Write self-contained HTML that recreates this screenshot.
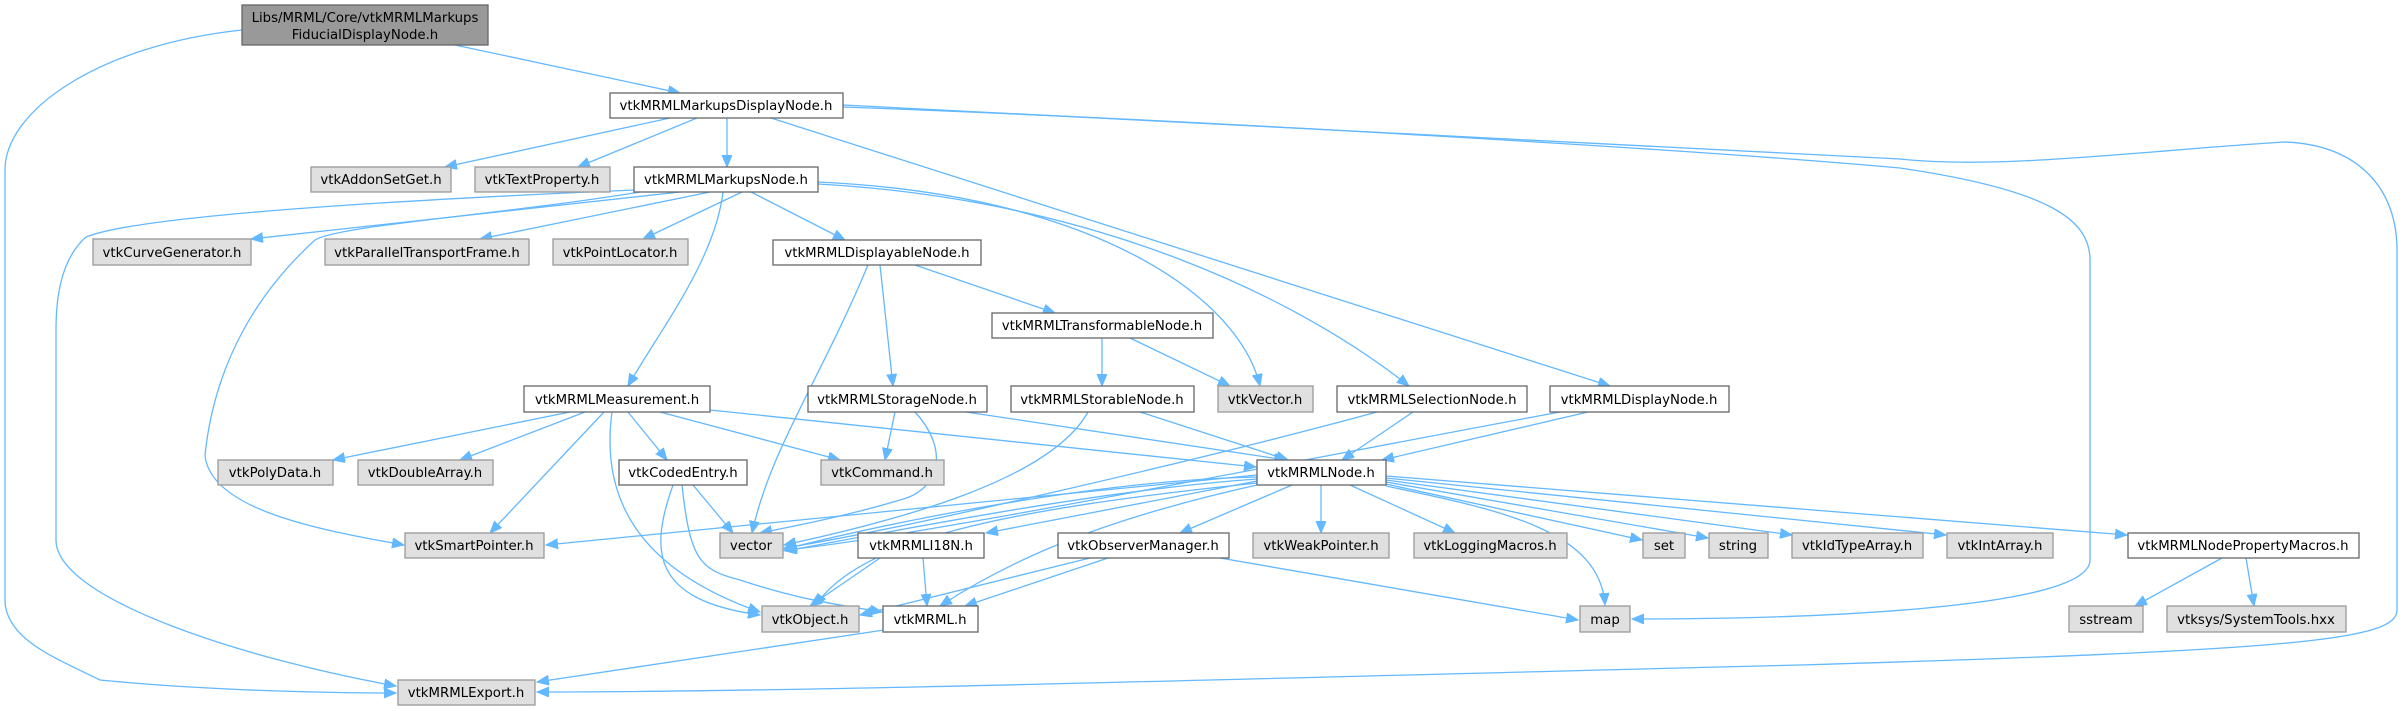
<!DOCTYPE html>
<html><head><meta charset="utf-8"><style>
html,body{margin:0;padding:0;background:#fff;}
svg{display:block;}
text{font-family:"DejaVu Sans","Liberation Sans",sans-serif;font-size:13.3px;fill:#000;text-anchor:middle;}
.w{fill:#fff;stroke:#666;stroke-width:1.3;}
.g{fill:#e0e0e0;stroke:#999;stroke-width:1.3;}
.r{fill:#999;stroke:#666;stroke-width:1.3;}
path{fill:none;stroke:#63b8ff;stroke-width:1.3;}
</style></head><body>
<svg width="2403" height="711" viewBox="0 0 2403 711" xmlns="http://www.w3.org/2000/svg">
<defs><marker id="a" markerUnits="userSpaceOnUse" markerWidth="14" markerHeight="12" refX="12" refY="5" orient="auto"><path d="M0,0 L12,5 L0,10 Z" style="fill:#63b8ff;stroke:#63b8ff;stroke-width:1"/></marker></defs>
<g marker-end="url(#a)">
<path d="M242,30 C100,45 5,110 5,170 L5,600 C5,640 60,660 100,680 C200,690 320,693 396,693"/>
<path d="M455,45 L680,93"/>
<path d="M670,118 L445,167"/>
<path d="M697,118 L578,167"/>
<path d="M727,118 L727,167"/>
<path d="M771,118 L1610,386"/>
<path d="M843,107 C1200,120 1700,150 1900,168 C2050,190 2090,220 2090,260 L2090,560 C2090,610 1800,619 1632,619"/>
<path d="M843,105 C1300,130 1700,150 1900,159 C2000,170 2150,150 2285,142 C2360,145 2397,190 2397,250 L2397,610 C2397,640 2300,650 1800,665 C1200,680 800,692 537,692"/>
<path d="M680,192 L251,239"/>
<path d="M710,192 L480,239"/>
<path d="M742,192 L643,239"/>
<path d="M751,192 L845,240"/>
<path d="M723,192 C715,260 660,330 628,386"/>
<path d="M640,192 C500,215 340,225 315,240 C260,290 215,360 205,455 C210,510 320,530 404,545"/>
<path d="M634,190 C400,200 140,215 86,237 C60,260 56,300 56,330 L56,540 C56,600 250,660 396,686"/>
<path d="M818,182 C1100,195 1240,300 1260,386"/>
<path d="M818,184 C1100,200 1300,300 1409,386"/>
<path d="M868,265 C820,380 770,450 752,533"/>
<path d="M880,265 L893,386"/>
<path d="M915,265 L1055,313"/>
<path d="M1102,338 L1102,386"/>
<path d="M1130,338 L1230,386"/>
<path d="M570,412 L333,460"/>
<path d="M585,412 L460,460"/>
<path d="M604,412 L490,533"/>
<path d="M612,412 C600,500 640,570 760,612"/>
<path d="M628,412 L667,460"/>
<path d="M660,412 L840,460"/>
<path d="M710,410 L1256,467"/>
<path d="M693,485 L733,533"/>
<path d="M673,485 C650,550 650,600 760,615"/>
<path d="M682,485 C690,560 700,570 740,580 C800,600 840,605 882,612"/>
<path d="M895,412 L885,460"/>
<path d="M915,412 C950,450 940,490 900,500 C850,515 800,525 760,533"/>
<path d="M1088,412 C1050,480 900,520 784,545"/>
<path d="M1377,412 C1200,460 900,530 784,548"/>
<path d="M1560,412 C1300,460 900,540 784,550"/>
<path d="M966,412 L1286,460"/>
<path d="M1140,412 L1288,460"/>
<path d="M1413,412 L1342,460"/>
<path d="M1588,412 L1382,460"/>
<path d="M1257,475 L546,545"/>
<path d="M1257,477 C1100,480 900,520 785,549"/>
<path d="M1257,479 C1100,490 900,530 785,551"/>
<path d="M1257,483 C1000,510 860,540 815,606"/>
<path d="M1257,485 C1100,520 1010,560 940,606"/>
<path d="M1257,481 L986,533"/>
<path d="M1292,485 L1180,533"/>
<path d="M1321,485 L1321,533"/>
<path d="M1350,485 L1455,533"/>
<path d="M1386,484 L1642,540"/>
<path d="M1386,482 L1708,538"/>
<path d="M1386,480 L1792,535"/>
<path d="M1386,478 L1946,535"/>
<path d="M1386,476 L2127,535"/>
<path d="M1386,486 C1500,510 1600,530 1605,605"/>
<path d="M880,558 L810,606"/>
<path d="M923,558 L927,606"/>
<path d="M1090,558 L860,615"/>
<path d="M1108,558 L965,606"/>
<path d="M1220,558 L1578,620"/>
<path d="M884,630 L537,682"/>
<path d="M2222,558 L2135,606"/>
<path d="M2246,558 L2254,606"/>
</g>
<g>
<rect class="r" x="242" y="5" width="246" height="40"/><text x="365" y="22">Libs/MRML/Core/vtkMRMLMarkups</text><text x="365" y="39">FiducialDisplayNode.h</text>
<rect class="w" x="610" y="93" width="233" height="25"/><text x="726" y="110">vtkMRMLMarkupsDisplayNode.h</text>
<rect class="g" x="311" y="167" width="140" height="25"/><text x="381" y="184">vtkAddonSetGet.h</text>
<rect class="g" x="475" y="167" width="135" height="25"/><text x="542" y="184">vtkTextProperty.h</text>
<rect class="w" x="634" y="167" width="184" height="25"/><text x="726" y="184">vtkMRMLMarkupsNode.h</text>
<rect class="g" x="93" y="239" width="158" height="26"/><text x="172" y="257">vtkCurveGenerator.h</text>
<rect class="g" x="325" y="239" width="204" height="26"/><text x="427" y="257">vtkParallelTransportFrame.h</text>
<rect class="g" x="553" y="239" width="135" height="26"/><text x="620" y="257">vtkPointLocator.h</text>
<rect class="w" x="773" y="240" width="208" height="25"/><text x="877" y="257">vtkMRMLDisplayableNode.h</text>
<rect class="w" x="992" y="313" width="221" height="25"/><text x="1102" y="330">vtkMRMLTransformableNode.h</text>
<rect class="w" x="524" y="386" width="186" height="26"/><text x="617" y="404">vtkMRMLMeasurement.h</text>
<rect class="w" x="808" y="386" width="179" height="26"/><text x="897" y="404">vtkMRMLStorageNode.h</text>
<rect class="w" x="1011" y="386" width="183" height="26"/><text x="1102" y="404">vtkMRMLStorableNode.h</text>
<rect class="g" x="1218" y="386" width="95" height="26"/><text x="1265" y="404">vtkVector.h</text>
<rect class="w" x="1337" y="386" width="190" height="26"/><text x="1432" y="404">vtkMRMLSelectionNode.h</text>
<rect class="w" x="1550" y="386" width="179" height="26"/><text x="1639" y="404">vtkMRMLDisplayNode.h</text>
<rect class="g" x="218" y="460" width="115" height="25"/><text x="275" y="477">vtkPolyData.h</text>
<rect class="g" x="358" y="460" width="135" height="25"/><text x="425" y="477">vtkDoubleArray.h</text>
<rect class="w" x="619" y="460" width="128" height="25"/><text x="683" y="477">vtkCodedEntry.h</text>
<rect class="g" x="821" y="460" width="123" height="25"/><text x="882" y="477">vtkCommand.h</text>
<rect class="w" x="1257" y="460" width="129" height="25"/><text x="1321" y="477">vtkMRMLNode.h</text>
<rect class="g" x="405" y="533" width="139" height="25"/><text x="474" y="550">vtkSmartPointer.h</text>
<rect class="g" x="720" y="533" width="63" height="25"/><text x="751" y="550">vector</text>
<rect class="w" x="858" y="533" width="126" height="25"/><text x="921" y="550">vtkMRMLI18N.h</text>
<rect class="w" x="1058" y="533" width="171" height="25"/><text x="1143" y="550">vtkObserverManager.h</text>
<rect class="g" x="1253" y="533" width="136" height="25"/><text x="1321" y="550">vtkWeakPointer.h</text>
<rect class="g" x="1414" y="533" width="153" height="25"/><text x="1490" y="550">vtkLoggingMacros.h</text>
<rect class="g" x="1643" y="533" width="42" height="25"/><text x="1664" y="550">set</text>
<rect class="g" x="1709" y="533" width="59" height="25"/><text x="1738" y="550">string</text>
<rect class="g" x="1792" y="533" width="131" height="25"/><text x="1857" y="550">vtkIdTypeArray.h</text>
<rect class="g" x="1947" y="533" width="106" height="25"/><text x="2000" y="550">vtkIntArray.h</text>
<rect class="w" x="2128" y="533" width="231" height="25"/><text x="2243" y="550">vtkMRMLNodePropertyMacros.h</text>
<rect class="g" x="762" y="606" width="97" height="26"/><text x="810" y="624">vtkObject.h</text>
<rect class="w" x="883" y="606" width="95" height="26"/><text x="930" y="624">vtkMRML.h</text>
<rect class="g" x="1580" y="606" width="50" height="26"/><text x="1605" y="624">map</text>
<rect class="g" x="2069" y="606" width="74" height="26"/><text x="2106" y="624">sstream</text>
<rect class="g" x="2167" y="606" width="179" height="26"/><text x="2256" y="624">vtksys/SystemTools.hxx</text>
<rect class="g" x="398" y="680" width="137" height="25"/><text x="466" y="697">vtkMRMLExport.h</text>
</g>
</svg>
</body></html>
